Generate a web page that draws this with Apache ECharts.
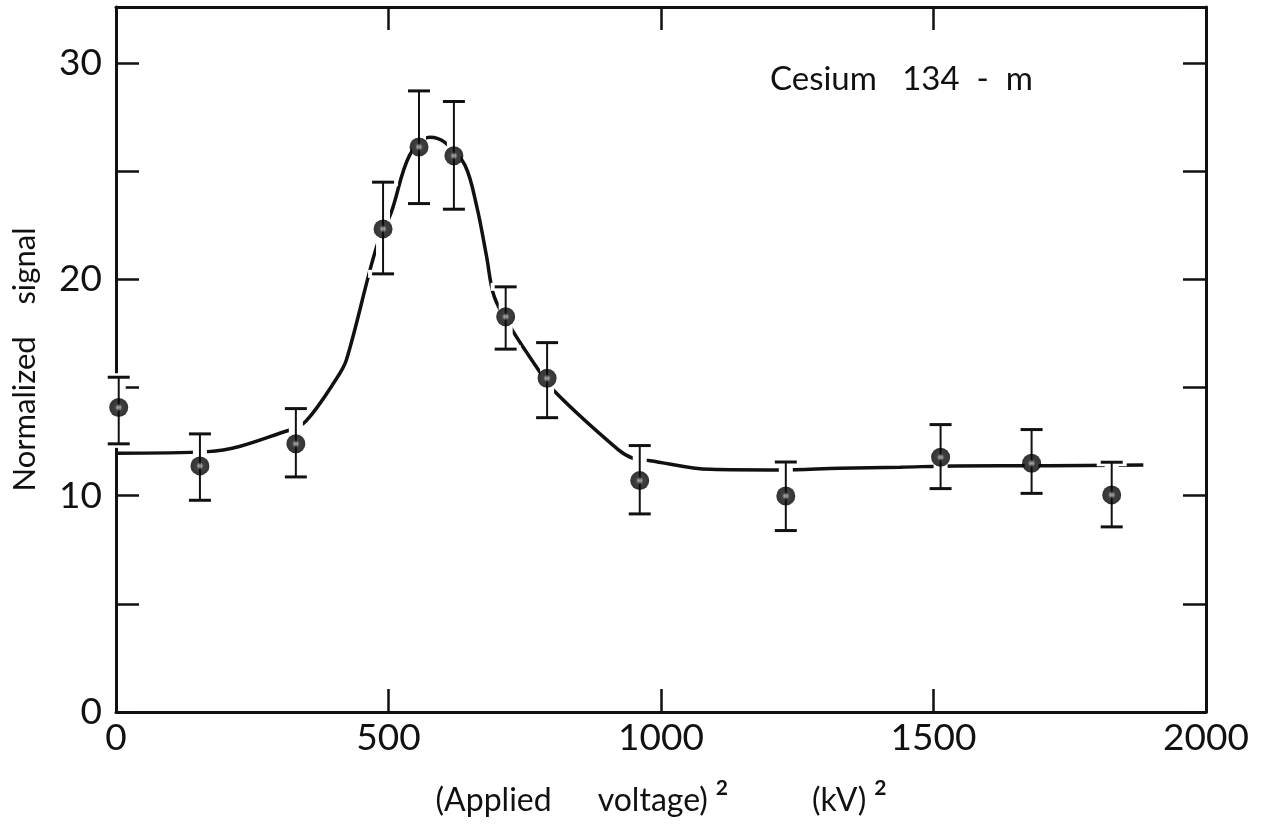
<!DOCTYPE html>
<html>
<head>
<meta charset="utf-8">
<script src="https://cdn.jsdelivr.net/npm/echarts@6/dist/echarts.min.js"></script>
<style>
  html, body { margin: 0; padding: 0; background: #fff; }
  #chart { width: 1265px; height: 826px; }
</style>
</head>
<body>
<div id="chart"></div>
<script>
// measured points: (applied voltage)^2 in kV^2 and normalized signal
const voltageSq = [5, 154, 330, 490, 556, 620, 715, 791, 961, 1229, 1513, 1680, 1827]
const signal = [14.08, 11.38, 12.40, 22.34, 26.13, 25.72, 18.28, 15.43, 10.70, 9.99, 11.78, 11.50, 10.04]
const errLow = [12.40, 9.79, 10.87, 20.26, 23.51, 23.25, 16.78, 13.61, 9.16, 8.39, 10.33, 10.11, 8.56]
const errHigh = [15.48, 12.86, 14.03, 24.50, 28.72, 28.23, 19.66, 17.08, 12.32, 11.56, 13.29, 13.06, 11.55]

// hand drawn fit curve
const fitX = [0, 169, 319, 349, 405, 423, 478, 505, 539, 576, 604, 640, 662, 680, 694, 726, 769, 805, 922, 949, 980, 1090, 1218, 1328, 1439, 1539, 1708, 1885]
const fitY = [11.97, 12.04, 13.04, 13.46, 15.43, 16.3, 21.5, 23.1, 25.76, 26.58, 26.33, 25.3, 23.37, 21.06, 19.21, 17.7, 16.05, 14.82, 12.12, 11.73, 11.62, 11.22, 11.19, 11.27, 11.32, 11.38, 11.39, 11.42]

const xTicks = ['0', '500', '1000', '1500', '2000']
const yTicks = ['0', '10', '20', '30']
const label = 'Cesium   134  -  m'

const FONT = 'Lato'
const INK = '#111'

const chart = echarts.init(document.getElementById('chart'))

const tickStyle = {
  show: true,
  inside: true,
  length: 23,
  lineStyle: { color: INK, width: 2.5 }
}
const lineStyle = { show: true, onZero: false, lineStyle: { color: INK, width: 3 } }

function renderErrorBar(params, api) {
  const top = api.coord([api.value(0), api.value(2)])
  const bot = api.coord([api.value(0), api.value(1)])
  const x = top[0]
  const half = 11
  const children = []
  // white halo so the curve / axis break around the bar
  ;[['white', 14, 8, 15], [INK, 2, 3, half]].forEach(([c, w, cw, h]) => {
    children.push({
      type: 'line',
      shape: { x1: x, y1: top[1], x2: x, y2: bot[1] },
      style: { stroke: c, lineWidth: w }
    })
    children.push({
      type: 'line',
      shape: { x1: x - h, y1: top[1], x2: x + h, y2: top[1] },
      style: { stroke: c, lineWidth: cw }
    })
    children.push({
      type: 'line',
      shape: { x1: x - h, y1: bot[1], x2: x + h, y2: bot[1] },
      style: { stroke: c, lineWidth: cw }
    })
  })
  return { type: 'group', children }
}

const nameFont = { fontFamily: FONT, color: INK, fontSize: 32 }

chart.setOption({
  backgroundColor: '#fff',
  animation: false,
  grid: { left: 116, right: 59, top: 7, bottom: 114 },
  xAxis: [{
    type: 'value',
    min: 0,
    max: 2000,
    interval: 500,
    position: 'bottom',
    axisLine: lineStyle,
    axisTick: tickStyle,
    splitLine: { show: false },
    axisLabel: {
      color: INK,
      fontFamily: FONT,
      fontSize: 37,
      margin: 8,
      formatter: v => xTicks[xTicks.indexOf(String(v))] || ''
    },
    name: '{a|(Applied}{b|voltage)}{s|2}{c|(kV)}{s|2}',
    nameLocation: 'middle',
    nameGap: 66,
    nameTextStyle: {
      color: INK,
      fontFamily: FONT,
      fontSize: 32,
      rich: {
        a: Object.assign({ padding: [0, 46, 0, 0] }, nameFont),
        b: nameFont,
        c: Object.assign({ padding: [0, 0, 0, 84] }, nameFont),
        s: { fontSize: 21, fontFamily: FONT, fontWeight: 'bold', color: INK, verticalAlign: 'top', padding: [0, 0, 24, 8] }
      }
    }
  }, {
    type: 'value',
    min: 0,
    max: 2000,
    interval: 500,
    position: 'top',
    axisLine: lineStyle,
    axisTick: tickStyle,
    splitLine: { show: false },
    axisLabel: { show: false }
  }],
  yAxis: [{
    type: 'value',
    min: 0,
    max: 32.6,
    interval: 5,
    position: 'left',
    axisLine: lineStyle,
    axisTick: tickStyle,
    splitLine: { show: false },
    axisLabel: {
      color: INK,
      fontFamily: FONT,
      fontSize: 37,
      margin: 14,
      showMaxLabel: false,
      formatter: v => yTicks.indexOf(String(v)) >= 0 ? String(v) : ''
    },
    name: 'Normalized    signal',
    nameLocation: 'middle',
    nameGap: 76,
    nameTextStyle: { color: INK, fontFamily: FONT, fontSize: 31 }
  }, {
    type: 'value',
    min: 0,
    max: 32.6,
    interval: 5,
    position: 'right',
    axisLine: lineStyle,
    axisTick: tickStyle,
    splitLine: { show: false },
    axisLabel: { show: false }
  }],
  graphic: [{
    type: 'text',
    left: 770,
    top: 63,
    style: { text: label, fill: INK, font: '33px ' + FONT }
  }],
  series: [{
    name: 'fit',
    type: 'line',
    data: fitX.map((x, i) => [x, fitY[i]]),
    smooth: 0.35,
    showSymbol: false,
    lineStyle: { color: INK, width: 3.5 },
    z: 2
  }, {
    name: 'error',
    type: 'custom',
    renderItem: renderErrorBar,
    data: voltageSq.map((x, i) => [x, errLow[i], errHigh[i]]),
    encode: { x: 0, y: [1, 2] },
    clip: false,
    z: 3
  }, {
    name: 'signal',
    type: 'scatter',
    data: voltageSq.map((x, i) => [x, signal[i]]),
    symbolSize: 19,
    itemStyle: {
      color: {
        type: 'radial', x: 0.5, y: 0.5, r: 0.5,
        colorStops: [
          { offset: 0, color: '#c8c8c8' },
          { offset: 0.2, color: '#777' },
          { offset: 0.38, color: '#111' },
          { offset: 1, color: '#000' }
        ]
      }
    },
    clip: false,
    z: 4
  }]
})
</script>
</body>
</html>
